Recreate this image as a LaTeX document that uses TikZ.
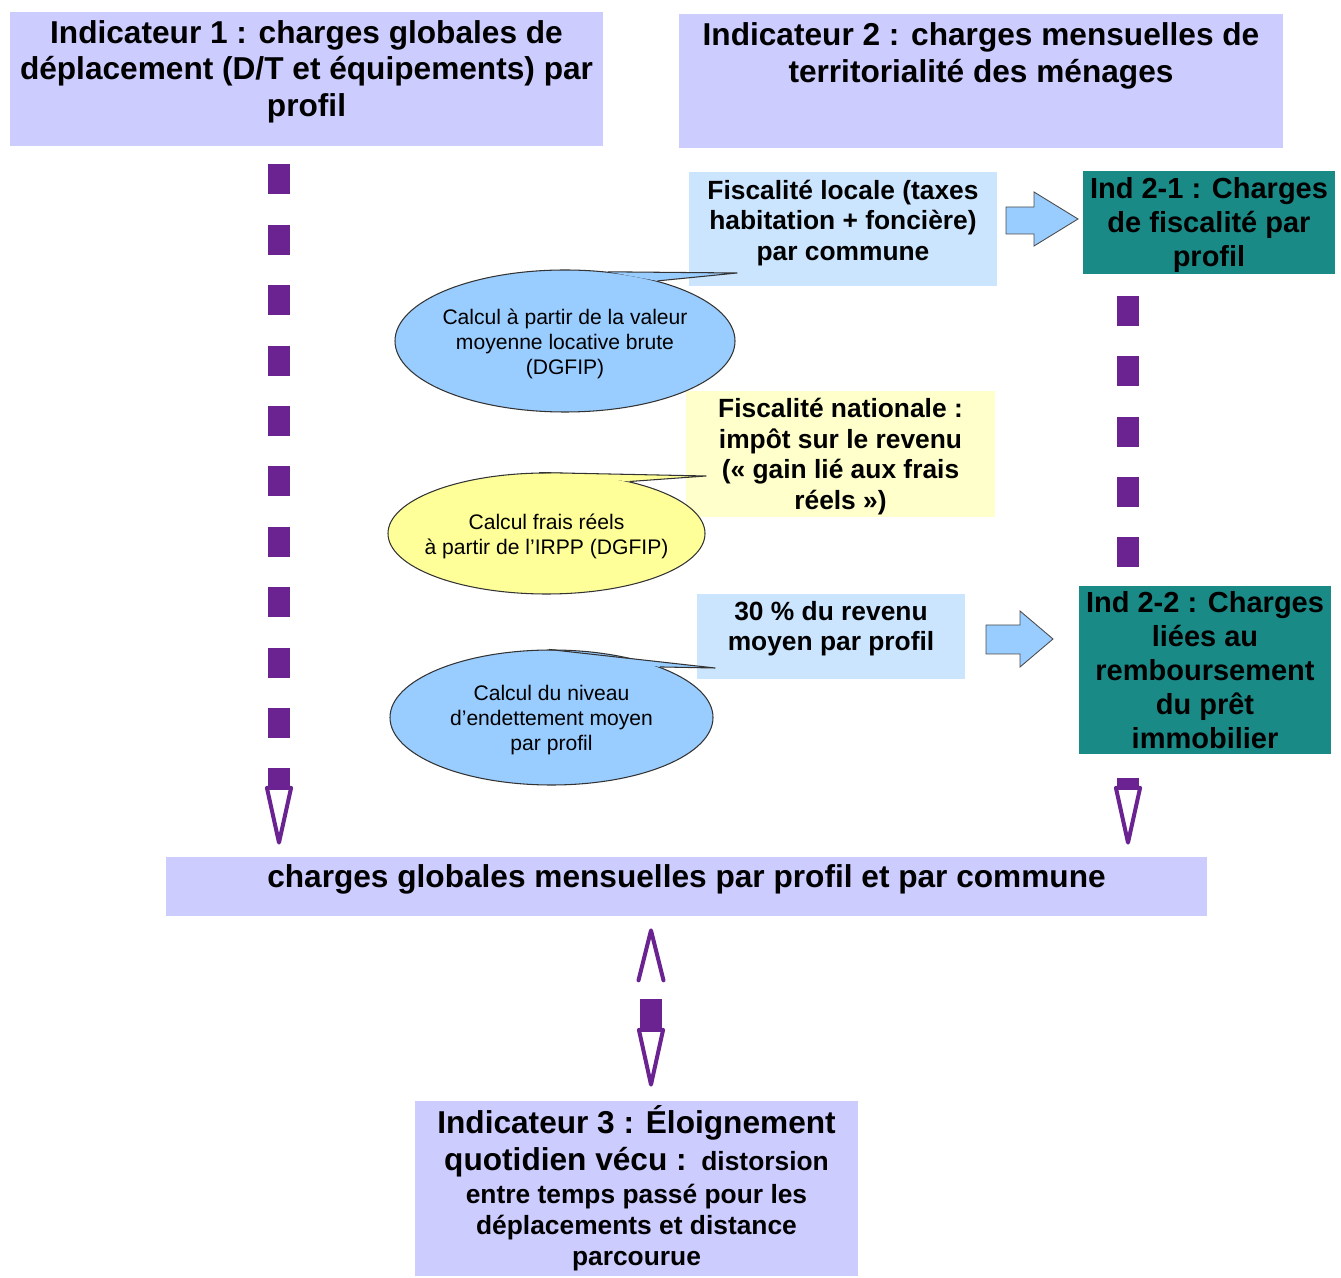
\documentclass[tikz,border=0pt]{standalone}
\usepackage{fontspec}
\setmainfont{Liberation Sans}
\usetikzlibrary{shapes.geometric, arrows.meta}

\definecolor{lavender}{HTML}{CCCCFF}
\definecolor{paleblue}{HTML}{CCE5FF}
\definecolor{paleyellow}{HTML}{FFFFCC}
\definecolor{skyblue}{HTML}{99CCFF}
\definecolor{lemon}{HTML}{FFFF99}
\definecolor{tealbox}{HTML}{1A8A87}
\definecolor{dashpurple}{HTML}{6A2391}

\begin{document}
\begin{tikzpicture}[
  indbox/.style={rectangle, fill=lavender, inner sep=1pt, align=center,
    font=\fontsize{18}{21}\selectfont\bfseries},
  fisbox/.style={rectangle, inner sep=1pt, align=center,
    font=\fontsize{15}{17.4}\selectfont\bfseries},
  subind/.style={rectangle, fill=tealbox, inner sep=1pt, align=center,
    minimum width=5.04cm, font=\fontsize{16.5}{19.3}\selectfont\bfseries},
  bubble/.style={ellipse, draw=black!80, line width=0.6pt, inner xsep=-8pt,
    inner ysep=0pt, align=center, font=\fontsize{12}{14.2}\selectfont},
  tail/.style={draw=black!80, line width=0.6pt, line join=round},
  blockarrow/.style={fill=skyblue, draw=black!70, line width=0.5pt},
  dashlink/.style={dashpurple, line width=0.44cm, dash pattern=on 0.6cm off 0.608cm,
    -{Triangle[open, round, length=1.33cm, width=0.56cm, line width=0.08cm]}}
]
  \useasboundingbox (0,0) rectangle (26.82,25.54);

  % indicateurs
  \node[indbox, minimum width=11.86cm, minimum height=2.68cm] (ind1) at (6.13,23.96)
    {Indicateur 1 : charges globales de\\déplacement (D/T et équipements) par\\profil\rule[-12pt]{0pt}{0pt}};
  \node[indbox, minimum width=12.08cm, minimum height=2.68cm] (ind2) at (19.62,23.92)
    {Indicateur 2 : charges mensuelles de\\territorialité des ménages\rule[-32pt]{0pt}{0pt}};

  \node[fisbox, fill=paleblue, minimum width=6.16cm, minimum height=2.28cm] (fisloc) at (16.86,20.96)
    {Fiscalité locale (taxes\\habitation + foncière)\\par commune\rule[-10pt]{0pt}{0pt}};
  \node[subind, minimum height=2.02cm] (ind21) at (24.18,21.09)
    {\rule{0pt}{15pt}Ind 2-1 : Charges\\de fiscalité par\\profil};
  \node[fisbox, fill=paleyellow, minimum width=6.18cm, minimum height=2.44cm] (fisnat) at (16.81,16.46)
    {\rule{0pt}{14pt}Fiscalité nationale :\\impôt sur le revenu\\(«~gain lié aux frais\\réels~»)};
  \node[fisbox, fill=paleblue, minimum width=5.36cm, minimum height=1.70cm] (revenu) at (16.62,12.81)
    {30 \% du revenu\\moyen par profil\rule[-12pt]{0pt}{0pt}};
  \node[subind, minimum height=3.36cm] (ind22) at (24.10,12.14)
    {Ind 2-2 : Charges\\liées au\\remboursement\\du prêt\\immobilier};

  \node[indbox, minimum width=20.82cm, minimum height=1.18cm] (total) at (13.73,7.81)
    {charges globales mensuelles par profil et par commune\rule[-12pt]{0pt}{0pt}};
  \node[indbox, font=\fontsize{15}{17.6}\selectfont\bfseries, minimum width=8.86cm,
    minimum height=3.50cm] (ind3) at (12.73,1.77)
    {{\fontsize{18}{21}\selectfont Indicateur 3 : Éloignement}\\[3.4pt]%
     {\fontsize{18}{21}\selectfont quotidien vécu :}\ \ distorsion\\[1.2pt]%
     entre temps passé pour les\\déplacements et distance\\parcourue};

  % bulles
  \coordinate (t1) at (14.74,20.08);
  \coordinate (t2) at (14.12,16.02);
  \coordinate (t3) at (14.30,12.18);
  \node[bubble, fill=skyblue, minimum width=6.80cm, minimum height=2.84cm] (c1) at (11.30,18.72)
    {\rule{0pt}{12pt}Calcul à partir de la valeur\\moyenne locative brute\\(DGFIP)};
  \fill[skyblue] (c1.58) -- (t1) -- (c1.33) -- cycle;
  \draw[tail] (c1.58) -- (t1) -- (c1.33);
  \node[bubble, fill=lemon, minimum width=6.34cm, minimum height=2.42cm] (c2) at (10.93,14.87)
    {\rule{0pt}{12pt}Calcul frais réels\\à partir de l’IRPP (DGFIP)};
  \fill[lemon] (c2.97) -- (t2) -- (c2.32) -- cycle;
  \draw[tail] (c2.97) -- (t2) -- (c2.32);
  \node[bubble, fill=skyblue, minimum width=6.46cm, minimum height=2.70cm] (c3) at (11.03,11.19)
    {\rule{0pt}{12pt}Calcul du niveau\\d’endettement moyen\\par profil};
  \fill[skyblue] (c3.92) -- (t3) -- (c3.25) -- cycle;
  \draw[tail] (c3.92) -- (t3) -- (c3.25);

  % fleches pleines
  \draw[blockarrow] (20.12,21.40) -- (20.68,21.40) -- (20.68,21.70) -- (21.56,21.16)
    -- (20.68,20.62) -- (20.68,20.86) -- (20.12,20.86) -- cycle;
  \draw[blockarrow] (19.72,13.04) -- (20.40,13.04) -- (20.40,13.32) -- (21.06,12.76)
    -- (20.40,12.20) -- (20.40,12.46) -- (19.72,12.46) -- cycle;

  % liens pointilles
  \draw[dashlink, shorten <=0.36cm, shorten >=0.24cm] (5.58,0 |- ind1.south) -- (5.58,0 |- total.north);
  \draw[dashlink, -, shorten <=0.42cm] (22.56,0 |- ind21.south) -- (22.56,0 |- ind22.north);
  \draw[dashlink, shorten <=0.48cm, shorten >=0.24cm] (22.56,0 |- ind22.south) -- (22.56,0 |- total.north);
  \draw[dashlink, dash pattern=on 0.6cm off 3cm, shorten <=0.28cm, shorten >=0.24cm,
    {Triangle[open, round, length=1.33cm, width=0.56cm, line width=0.08cm]}-{Straight Barb[round, length=1.0cm, width=0.5cm, line width=0.08cm]}]
    (13.02,0 |- ind3.north) -- (13.02,0 |- total.south);
\end{tikzpicture}
\end{document}
